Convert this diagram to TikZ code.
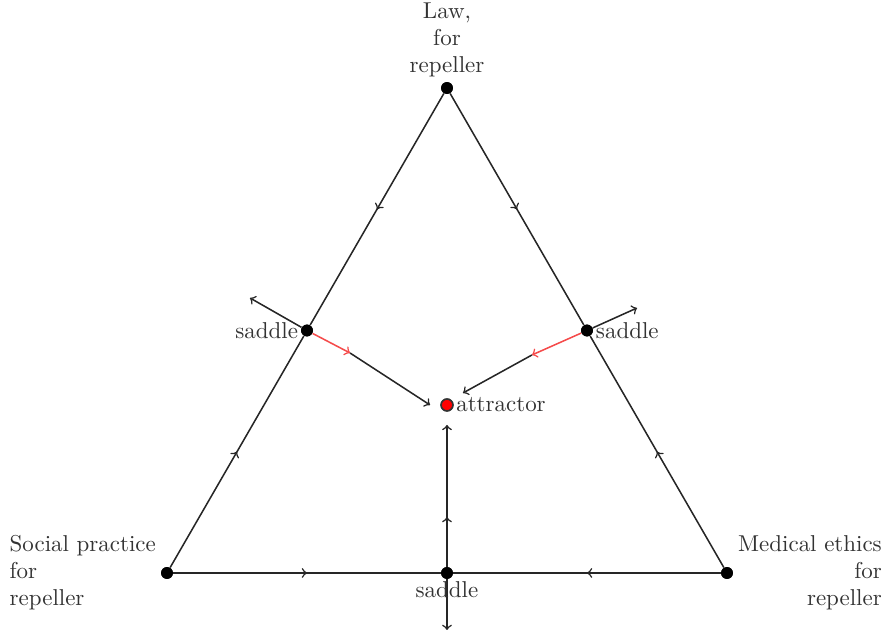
\documentclass[tikz,border=0pt]{standalone}
\usepackage{tikz}
\usetikzlibrary{positioning,decorations.markings}
\definecolor{flowred}{RGB}{245,75,75}
\tikzset{
  flow/.style={->, line width=0.7pt, black!85},
  redflow/.style={->, line width=0.7pt, flowred},
  edge/.style={line width=0.7pt, black!85},
  midarrow/.style={postaction={decorate}, decoration={markings,
    mark=at position #1 with {\arrow{>}}}},
  midarrow/.default=0.5,
  vertexdot/.style={circle, fill=black, inner sep=0pt, minimum size=0.19cm},
  attdot/.style={circle, draw=black!80, fill=red, inner sep=0pt,
    minimum size=0.19cm, line width=0.7pt},
  lbl/.style={inner sep=1pt, text=black!80, font=\fontsize{10.5}{12.4}\selectfont},
}
\begin{document}
\begin{tikzpicture}
  \useasboundingbox (-2.684,-0.948) rectangle (11.475,9.209);
  % vertices and fixed points
  \node[vertexdot] (social) at (0,0) {};
  \node[vertexdot] (medical) at (9,0) {};
  \node[vertexdot] (law) at (4.5,7.794) {};
  \node[vertexdot] (lsad) at (2.25,3.897) {};
  \node[vertexdot] (rsad) at (6.75,3.897) {};
  \node[vertexdot] (bsad) at (4.5,0) {};
  \node[attdot] (att) at (4.5,2.7) {};
  \coordinate (lout) at (1.334,4.420);
  \coordinate (lred) at (2.941,3.536);
  \coordinate (ltip) at (4.227,2.700);
  \coordinate (rout) at (7.554,4.259);
  \coordinate (rred) at (5.866,3.504);
  \coordinate (rtip) at (4.757,2.893);
  \coordinate (btop) at (4.5,2.379);
  \coordinate (bbot) at (4.5,-0.916);
  % edges of the simplex
  \draw[edge, midarrow] (law) -- (lsad);
  \draw[edge, midarrow] (social) -- (lsad);
  \draw[edge, midarrow] (law) -- (rsad);
  \draw[edge, midarrow] (medical) -- (rsad);
  \draw[edge, midarrow] (social) -- (bsad);
  \draw[edge, midarrow] (medical) -- (bsad);
  % unstable manifolds
  \draw[flow] (lsad) -- (lout);
  \draw[redflow] (lsad) -- (lred);
  \draw[flow] (lred) -- (ltip);
  \draw[flow] (rsad) -- (rout);
  \draw[redflow] (rsad) -- (rred);
  \draw[flow] (rred) -- (rtip);
  \draw[flow, midarrow=0.35] (bsad) -- (btop);
  \draw[flow] (bsad) -- (bbot);
  % redraw dots on top
  \foreach \p in {social,medical,law,lsad,rsad,bsad}
    \fill (\p) circle (0.095cm);
  \draw[attdot] (att) circle (0.095cm);
  % labels
  \node[lbl, align=center, above=1pt of law] (lawtxt) {Law,\\for\\repeller};
  \node[lbl, align=left, left=1pt of social] (socialtxt) {Social practice\\for\\repeller};
  \node[lbl, align=right, right=1pt of medical] (medicaltxt) {Medical ethics\\for\\repeller};
  \node[lbl, left=0pt of lsad] (lsadtxt) {saddle};
  \node[lbl, right=0pt of rsad] (rsadtxt) {saddle};
  \node[lbl, below=0pt of bsad] (bsadtxt) {saddle};
  \node[lbl, right=0pt of att] (atttxt) {attractor};
\end{tikzpicture}
\end{document}
